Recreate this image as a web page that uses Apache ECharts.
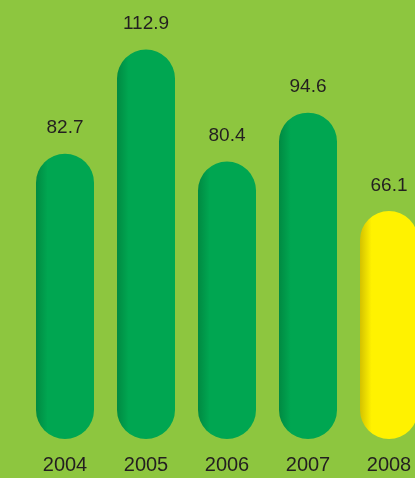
<!DOCTYPE html>
<html><head><meta charset="utf-8">
<script src="https://cdn.jsdelivr.net/npm/echarts@6/dist/echarts.min.js"></script>
<style>html,body{margin:0;padding:0;background:#8dc63f;overflow:hidden;}#c{width:440px;height:478px;}</style>
</head><body><div id="c"></div>
<script>
var categories = ['2004','2005','2006','2007','2008'];
var values = [82.7, 112.9, 80.4, 94.6, 66.1];
var highlightIndex = 4;

function grad(c0, c1){
  return new echarts.graphic.LinearGradient(0,0,1,0,[
    {offset:0,color:c0},{offset:0.2,color:c1},{offset:1,color:c1}]);
}
var chart = echarts.init(document.getElementById('c'), null, {renderer:'canvas'});
chart.setOption({
  backgroundColor:'#8dc63f',
  animation:false,
  grid:{left:24.5, width:405, top:25, bottom:39},
  xAxis:{type:'category', data:categories, axisLine:{show:false}, axisTick:{show:false},
    axisLabel:{color:'#231f20', fontSize:20, fontFamily:'Liberation Sans, Arial, sans-serif', margin:16}},
  yAxis:{type:'value', min:0, max:120, show:false, splitLine:{show:false}},
  series:[{type:'bar', barWidth:58,
    data: values.map(function(v,i){
      return {value:v, itemStyle:{color: i===highlightIndex ? grad('#d4c200','#fff200') : grad('#008a42','#00a651')}};
    }),
    itemStyle:{borderRadius:29},
    label:{show:true, position:'top', distance:16, color:'#231f20', fontSize:19, fontFamily:'Liberation Sans, Arial, sans-serif'}
  }]
});
</script></body></html>
